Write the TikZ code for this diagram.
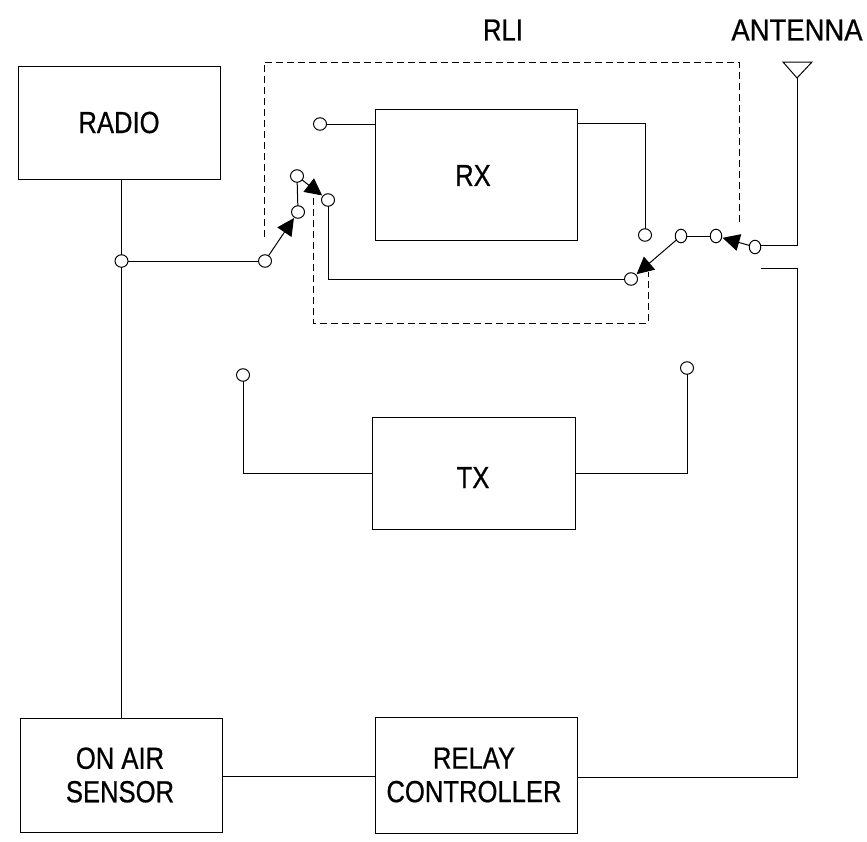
\documentclass[tikz,border=0pt]{standalone}
\usepackage{fontspec}
\setmainfont{Liberation Sans}
\newfontfamily\blockfont[FakeStretch=0.84,FakeBold=0.6]{Liberation Sans}
\newfontfamily\antfont[FakeStretch=0.9,FakeBold=0.6]{Liberation Sans}
\usetikzlibrary{arrows.meta,shapes.geometric}
\tikzset{
  blockbox/.style={draw,line width=1pt,anchor=north west,inner sep=0pt,outer sep=0pt},
  contact/.style={draw,fill=white,ellipse,line width=1pt,minimum width=13pt,minimum height=12.5pt,inner sep=0pt,outer sep=0pt},
  narrowcontact/.style={contact,minimum width=11.5pt,minimum height=13.5pt},
  wire/.style={line width=1pt},
  switcharm/.style={line width=1pt,-{Triangle[length=17pt,width=17pt]},shorten >=1pt},
  rlibound/.style={line width=1pt,dash pattern=on 7pt off 4pt},
  lbl/.style={font=\blockfont\fontsize{30.5}{33.5}\selectfont,align=center,inner sep=0pt}
}
\begin{document}
\begin{tikzpicture}[x=1pt,y=-1pt]
\useasboundingbox (0,0) rectangle (867,841);
% blocks
\node[blockbox,minimum width=202pt,minimum height=113pt] (radio) at (18,66) {};
\node[blockbox,minimum width=202pt,minimum height=131pt] (rx) at (375,109) {};
\node[blockbox,minimum width=203pt,minimum height=112pt] (tx) at (372,417) {};
\node[blockbox,minimum width=202pt,minimum height=114pt] (onair) at (20,718) {};
\node[blockbox,minimum width=202pt,minimum height=116pt] (relay) at (375,717) {};
% labels
\node[lbl] (radiotext) at (119,122.5) {RADIO};
\node[lbl] (rxtext) at (473,175.5) {RX};
\node[lbl] (txtext) at (473,477.5) {TX};
\node[lbl] (onairtext) at (120,775) {ON AIR\\SENSOR};
\node[lbl] (relaytext) at (474,775) {RELAY\\CONTROLLER};
\node[lbl] (rlitext) at (503,30) {RLI};
\node[lbl,font=\antfont\fontsize{30.5}{33.5}\selectfont] (anttext) at (797,30) {ANTENNA};
% coordinates
\coordinate (antL) at (783,62);
\coordinate (antR) at (812,62);
\coordinate (antB) at (797,78);
\coordinate (antC) at (797,245);
\coordinate (relayC) at (797,268);
\coordinate (relayEnd) at (761,268);
\coordinate (relayD) at (797,777);
\coordinate (d1a) at (264,237);
\coordinate (d1b) at (264,62);
\coordinate (d1c) at (739,62);
\coordinate (d1d) at (739,224);
\coordinate (d2a) at (313,198);
\coordinate (d2b) at (313,323);
\coordinate (d2c) at (648,323);
\coordinate (d2d) at (648,272);
% dashed outline
\draw[rlibound] (d1a) -- (d1b) -- (d1c) -- (d1d);
\draw[rlibound] (d2a) -- (d2b) -- (d2c) -- (d2d);
% main radio line, under the junction contact
\draw[wire] (radio.south -| 121,0) -- (onair.north -| 121,0);
% contacts
\node[contact] (junction) at (121.5,261) {};
\node[contact] (swin) at (265,261) {};
\node[contact] (a1) at (298,212) {};
\node[contact] (a2) at (297,176) {};
\node[contact] (a3) at (328,200) {};
\node[contact] (rxin) at (320,124) {};
\node[contact] (rxout) at (645,235) {};
\node[narrowcontact] (b1) at (681,236) {};
\node[narrowcontact] (b2) at (716,236) {};
\node[narrowcontact] (antc) at (755,247) {};
\node[contact] (b3) at (631,279) {};
\node[contact] (txin) at (243,375) {};
\node[contact] (txout) at (687,368) {};
% wires
\draw[wire] (antL) -- (antR) -- (antB) -- cycle;
\draw[wire] (antB) -- (antC) -- (antC -| antc.east);
\draw[wire] (relayEnd) -- (relayC) -- (relayD) -- (relayD -| relay.east);
\draw[wire] (junction) -- (swin);
\draw[wire] (a1) -- (a2);
\draw[wire] (b1) -- (b2);
\draw[wire] (rxin) -- (rxin -| rx.west);
\draw[wire] (rx.east |- 0,123) -- (645,123) -- (rxout.north);
\draw[wire] (txin.south) -- (txin.south |- 0,473) -- (tx.west |- 0,473);
\draw[wire] (tx.east |- 0,473) -- (txout.south |- 0,473) -- (txout.south);
\draw[wire] (a3.south) -- (a3.south |- b3.west) -- (b3.west);
\draw[wire] (onair.east |- 0,776) -- (relay.west |- 0,776);
% switch arms
\draw[switcharm] (swin) -- (a1);
\draw[switcharm] (a2) -- (a3);
\draw[switcharm] (b1) -- (b3);
\draw[switcharm] (antc) -- (b2);
\end{tikzpicture}
\end{document}
